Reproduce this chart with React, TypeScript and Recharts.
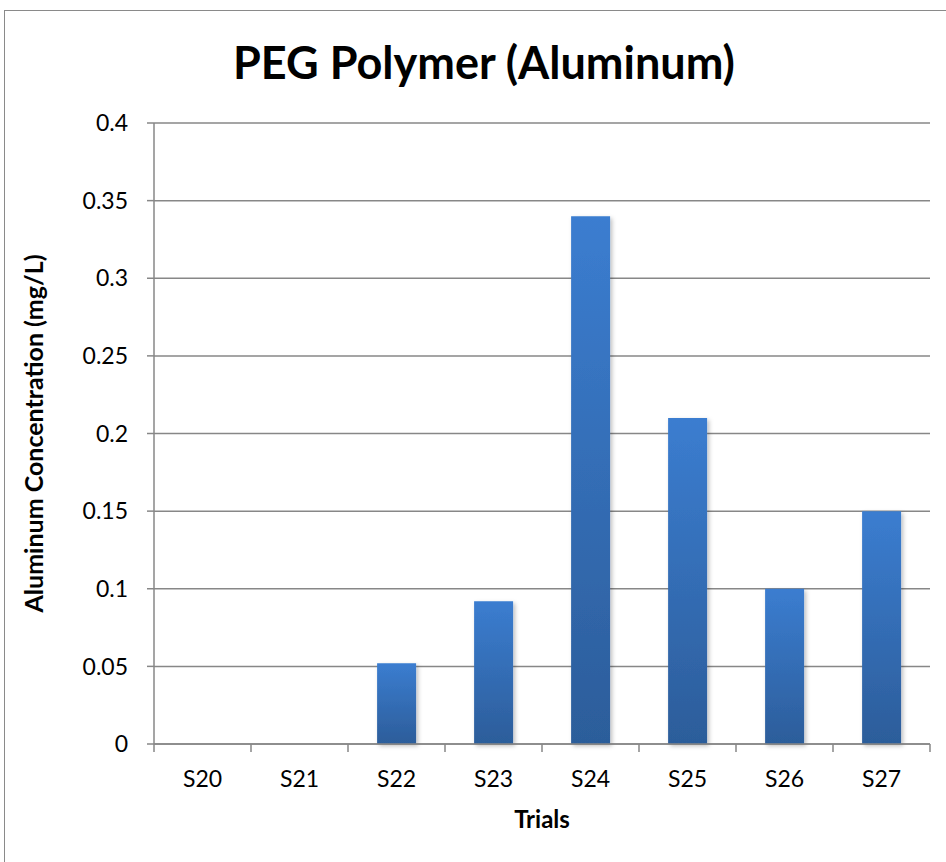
import React from "react";
import { Bar, BarChart, CartesianGrid, XAxis, YAxis } from "recharts";

const trials = ["S20", "S21", "S22", "S23", "S24", "S25", "S26", "S27"];
const concentrations = [0, 0, 0.052, 0.092, 0.34, 0.21, 0.1, 0.15];
const yTicks = [0, 0.05, 0.1, 0.15, 0.2, 0.25, 0.3, 0.35, 0.4];

const data = trials.map((trial, i) => ({ trial, value: concentrations[i] }));

const FONT = "Lato, 'Open Sans', sans-serif";
const CHART_W = 946;
const CHART_H = 862;
const MARGIN = { top: 123, right: 16, left: 0, bottom: 58 };
const Y_AXIS_W = 154;
const X_AXIS_H = 60;
const bandWidth = (CHART_W - MARGIN.left - MARGIN.right - Y_AXIS_W) / trials.length;

// category ticks sit between bars, like the spreadsheet original
const CategoryTick = (props: any) => {
  const { x, y, payload, index } = props;
  const left = x - bandWidth / 2;
  const isLast = index === trials.length - 1;
  return (
    <g>
      <line x1={left} y1={y - 8} x2={left} y2={y} stroke="#878787" strokeWidth={1.5} />
      {isLast && <line x1={left + bandWidth} y1={y - 8} x2={left + bandWidth} y2={y} stroke="#878787" strokeWidth={1.5} />}
      <text x={x} y={y + 35} textAnchor="middle" fontFamily={FONT} fontSize={23} fill="#000">
        {payload.value}
      </text>
    </g>
  );
};

export default function App() {
  return (
    <div style={{ position: "fixed", left: 0, top: 0, width: CHART_W, height: CHART_H, overflow: "hidden", background: "#fff" }}>
      <div
        style={{
          position: "absolute",
          left: 4,
          top: 10,
          width: 980,
          height: 900,
          border: "1.5px solid #8a8a8a",
        }}
      />
      <div
        style={{
          position: "absolute",
          left: 0,
          width: 968,
          top: 35,
          textAlign: "center",
          fontFamily: FONT,
          fontWeight: 700,
          fontSize: 45,
          color: "#000",
        }}
      >
        PEG Polymer (Aluminum)
      </div>
      <div style={{ position: "absolute", left: 0, top: 0 }}>
        <BarChart width={CHART_W} height={CHART_H} data={data} margin={MARGIN} barCategoryGap="30%">
          <defs>
            <linearGradient id="barFill" x1="0" y1="0" x2="0" y2="1">
              <stop offset="0%" stopColor="#3b7dd0" />
              <stop offset="100%" stopColor="#2c5d9a" />
            </linearGradient>
            <filter id="barShadow" x="-20%" y="-5%" width="150%" height="115%">
              <feDropShadow dx="2" dy="2" stdDeviation="2" floodColor="#000" floodOpacity="0.25" />
            </filter>
          </defs>
          <CartesianGrid vertical={false} stroke="#878787" strokeWidth={1.5} />
          <XAxis
            dataKey="trial"
            height={X_AXIS_H}
            axisLine={{ stroke: "#878787", strokeWidth: 1.5 }}
            tickLine={false}
            tick={<CategoryTick />}
            interval={0}
            label={{
              value: "Trials",
              position: "insideBottom",
              offset: -24,
              style: { fontFamily: FONT, fontWeight: 700, fontSize: 24, fill: "#000" },
            }}
          />
          <YAxis
            width={Y_AXIS_W}
            domain={[0, 0.4]}
            ticks={yTicks}
            interval={0}
            tickFormatter={(v: number) => String(v)}
            axisLine={{ stroke: "#878787", strokeWidth: 1.5 }}
            tickLine={{ stroke: "#878787", strokeWidth: 1.5 }}
            tickSize={7}
            tickMargin={19}
            tick={{ fontFamily: FONT, fontSize: 23, fill: "#000" }}
            label={{
              value: "Aluminum Concentration (mg/L)",
              angle: -90,
              position: "insideLeft",
              offset: 34,
              style: { textAnchor: "middle", fontFamily: FONT, fontWeight: 700, fontSize: 25, fill: "#000" },
            }}
          />
          <Bar dataKey="value" fill="url(#barFill)" filter="url(#barShadow)" isAnimationActive={false} />
        </BarChart>
      </div>
    </div>
  );
}
